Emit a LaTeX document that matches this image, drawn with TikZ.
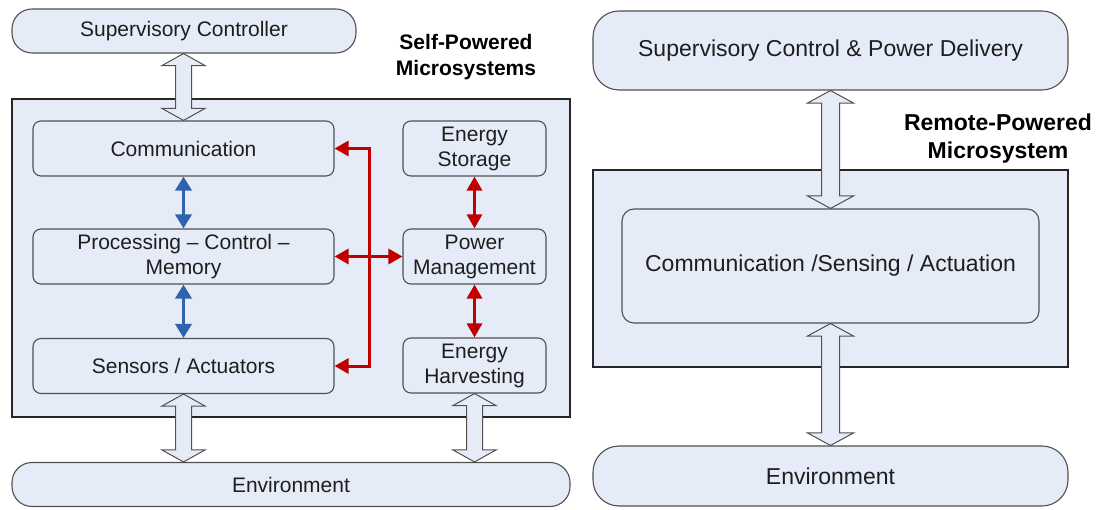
\documentclass[tikz,border=0pt]{standalone}
\usepackage{fontspec}
\setmainfont{Liberation Sans}
\usetikzlibrary{arrows.meta,calc}
\definecolor{boxfill}{HTML}{E6ECF7}
\definecolor{boxline}{HTML}{505050}
\definecolor{myred}{HTML}{C00000}
\definecolor{myblue}{HTML}{2E63AE}
\definecolor{txt}{HTML}{1E1E1E}
\newcommand{\hollowarrow}[5]{%
  \draw[hollow] let \p1=(#1), \p2=(#2) in
   (\x1,\y1) -- (\x1+#3,\y1-#5) -- (\x1+#4,\y1-#5) -- (\x1+#4,\y2+#5) -- (\x1+#3,\y2+#5)
   -- (\x1,\y2) -- (\x1-#3,\y2+#5) -- (\x1-#4,\y2+#5) -- (\x1-#4,\y1-#5) -- (\x1-#3,\y1-#5) -- cycle;}
\begin{document}
\begin{tikzpicture}[x=1pt,y=-1pt,
  outer/.style={draw=black!85, fill=boxfill, line width=1.2pt, inner sep=0pt},
  inner/.style={draw=boxline, fill=boxfill, line width=1.1pt, rounded corners=8pt, inner sep=0pt,
     align=center, text=txt, font=\fontsize{21}{25}\selectfont},
  pill/.style={inner, rounded corners=20pt},
  bigtxt/.style={font=\fontsize{23}{28}\selectfont},
  hollow/.style={draw=boxline, fill=boxfill, line width=1pt, line join=miter},
  redline/.style={draw=myred, line width=3pt, {Triangle[length=14pt,width=15pt]}-{Triangle[length=14pt,width=15pt]}},
  blueline/.style={draw=myblue, line width=3.5pt, {Triangle[length=14pt,width=16pt]}-{Triangle[length=14pt,width=16pt]}},
  lbl/.style={align=center, text=black, font=\fontsize{21}{26}\selectfont\bfseries}]
\useasboundingbox (0,0) rectangle (1107,510);
% ---------- left: self-powered ----------
\node[outer, minimum width=558pt, minimum height=318pt] (selfbox) at (291,258) {};
\node[pill, minimum width=344pt, minimum height=44pt] (sup) at (184,31) {Supervisory Controller};
\node[inner, minimum width=301pt, minimum height=55pt] (comm) at (183.5,148.5) {Communication};
\node[inner, minimum width=301pt, minimum height=55pt] (proc) at (183.5,256.5) {Processing – Control –\\Memory};
\node[inner, minimum width=301pt, minimum height=55pt] (sens) at (183.5,366) {Sensors / Actuators};
\node[inner, minimum width=143pt, minimum height=55pt] (stor) at (474.5,148.5) {Energy\\Storage};
\node[inner, minimum width=143pt, minimum height=55pt] (pm) at (474.5,256.5) {Power\\Management};
\node[inner, minimum width=143pt, minimum height=55pt] (harv) at (474.5,365.5) {Energy\\Harvesting};
\node[pill, minimum width=558pt, minimum height=44pt] (envL) at (291,484.5) {Environment};
\node[lbl] (lblL) at (466,57) {Self-Powered\\Microsystems};
\coordinate (bus) at (369,0);
\draw[redline] (comm.east) -- (comm.east -| bus) -- (sens.east -| bus) -- (sens.east);
\draw[redline] (proc.east) -- (pm.west);
\draw[redline] (stor.south) -- (pm.north);
\draw[redline] (pm.south) -- (harv.north);
\draw[blueline] (comm.south) -- (proc.north);
\draw[blueline] (proc.south) -- (sens.north);
\hollowarrow{sup.south -| comm.north}{comm.north}{21.5pt}{8pt}{12pt}
\hollowarrow{sens.south}{envL.north}{21.5pt}{8pt}{12pt}
\hollowarrow{harv.south}{envL.north}{21.5pt}{8pt}{12pt}
% ---------- right: remote-powered ----------
\node[outer, minimum width=475pt, minimum height=197pt] (rbox) at (830.5,268.5) {};
\node[pill, bigtxt, rounded corners=26pt, minimum width=475pt, minimum height=79pt] (rsup) at (830.5,50.5) {Supervisory Control \& Power Delivery};
\node[inner, bigtxt, rounded corners=12pt, minimum width=417pt, minimum height=114pt] (rin) at (830.5,266) {Communication /Sensing / Actuation};
\node[pill, bigtxt, rounded corners=26pt, minimum width=475pt, minimum height=60pt] (envR) at (830.5,476) {Environment};
\node[lbl, font=\fontsize{23}{28}\selectfont\bfseries] (lblR) at (998,139) {Remote-Powered\\Microsystem};
\hollowarrow{rsup.south -| rin.north}{rin.north}{23pt}{9pt}{12.5pt}
\hollowarrow{rin.south}{envR.north}{23pt}{9pt}{12.5pt}
\end{tikzpicture}
\end{document}
